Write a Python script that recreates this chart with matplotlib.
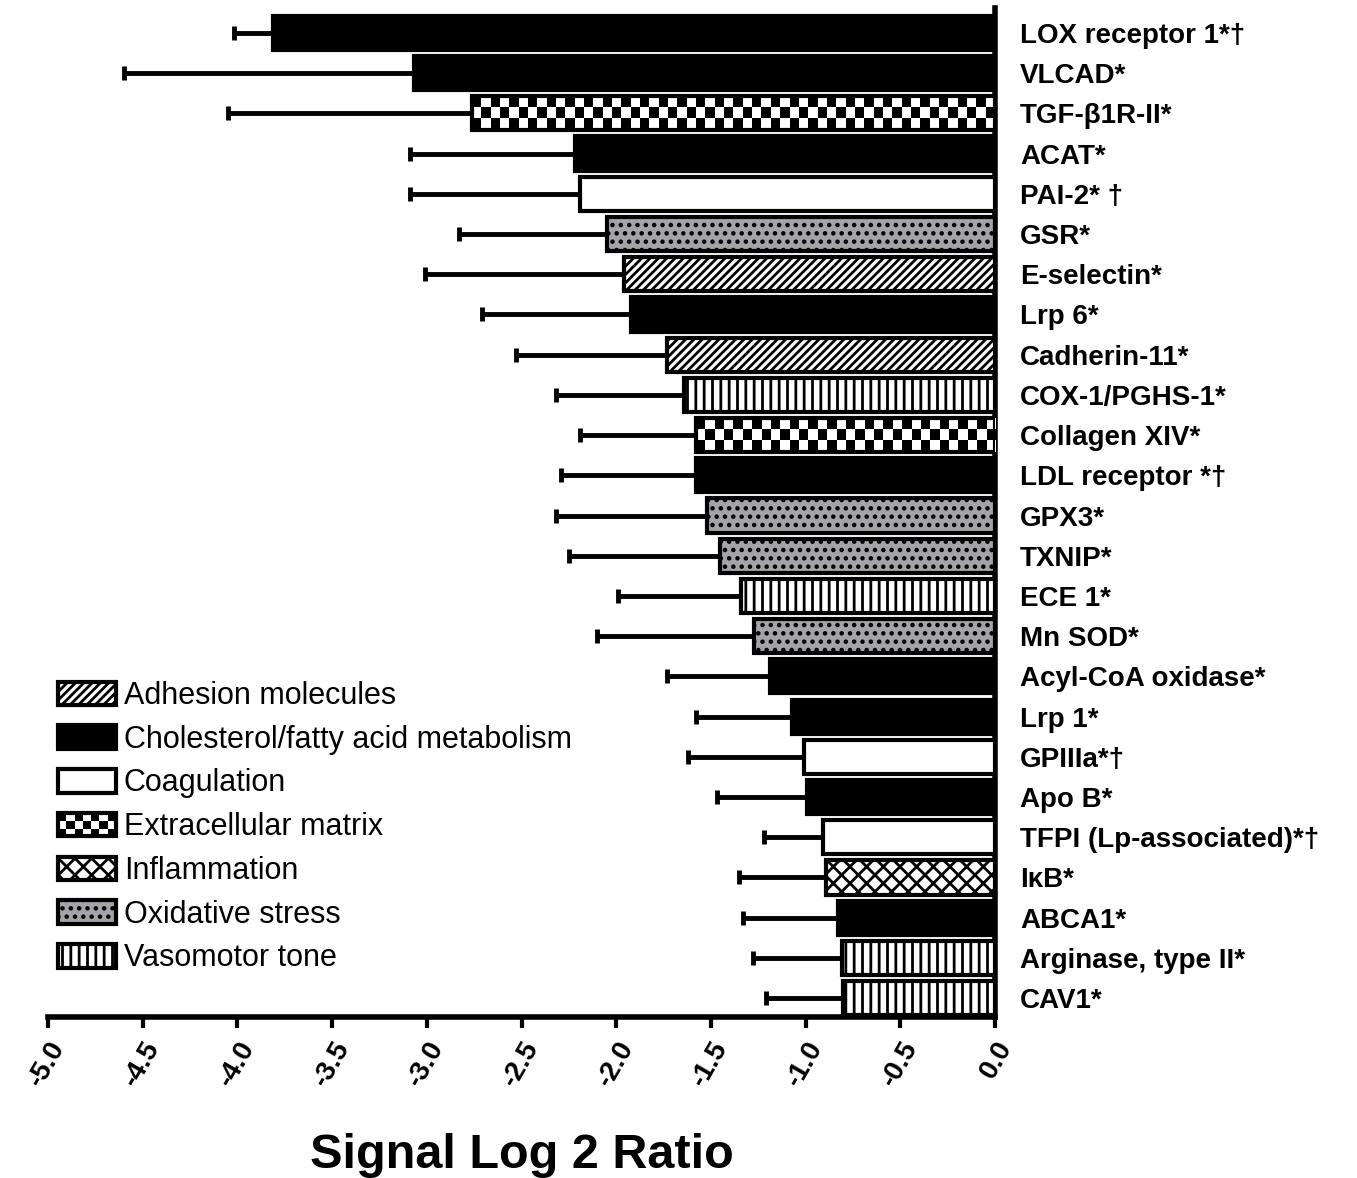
import numpy as np
import matplotlib
matplotlib.use('Agg')
import matplotlib.pyplot as plt
from matplotlib import font_manager
from matplotlib.patches import Patch, Rectangle
from matplotlib.legend_handler import HandlerBase

# gene labels, top to bottom
genes = ['LOX receptor 1*†', 'VLCAD*', 'TGF-β1R-II*', 'ACAT*', 'PAI-2* †', 'GSR*',
         'E-selectin*', 'Lrp 6*', 'Cadherin-11*', 'COX-1/PGHS-1*', 'Collagen XIV*',
         'LDL receptor *†', 'GPX3*', 'TXNIP*', 'ECE 1*', 'Mn SOD*', 'Acyl-CoA oxidase*',
         'Lrp 1*', 'GPIIIa*†', 'Apo B*', 'TFPI (Lp-associated)*†', 'IκB*', 'ABCA1*',
         'Arginase, type II*', 'CAV1*']

# mean signal log2 ratio
values = [-3.81, -3.07, -2.76, -2.22, -2.19, -2.05, -1.96, -1.92, -1.73, -1.64,
          -1.58, -1.58, -1.52, -1.45, -1.34, -1.27, -1.19, -1.07, -1.01, -0.99,
          -0.91, -0.89, -0.83, -0.81, -0.80]

# error (one-sided, toward more negative)
errors = [0.21, 1.53, 1.29, 0.87, 0.90, 0.78, 1.05, 0.79, 0.80, 0.68,
          0.61, 0.71, 0.80, 0.80, 0.65, 0.83, 0.54, 0.51, 0.61, 0.48,
          0.31, 0.46, 0.50, 0.47, 0.41]

# functional group of each gene
groups = ['chol', 'chol', 'ecm', 'chol', 'coag', 'oxid', 'adh', 'chol', 'adh', 'vaso',
          'ecm', 'chol', 'oxid', 'oxid', 'vaso', 'oxid', 'chol', 'chol', 'coag', 'chol',
          'coag', 'infl', 'chol', 'vaso', 'vaso']

group_keys = ['adh', 'chol', 'coag', 'ecm', 'infl', 'oxid', 'vaso']
group_names = ['Adhesion molecules', 'Cholesterol/fatty acid metabolism', 'Coagulation',
               'Extracellular matrix', 'Inflammation', 'Oxidative stress', 'Vasomotor tone']

# fill style per group: (facecolor, hatch)
styles = {
    'adh': ('white', '////'),
    'chol': ('black', None),
    'coag': ('white', None),
    'ecm': ('none', None),
    'infl': ('white', 'xx'),
    'oxid': ('#a3a3a8', '..'),
    'vaso': ('white', '||'),
}

names = {f.name for f in font_manager.fontManager.ttflist}
main_font = 'Liberation Sans Narrow' if 'Liberation Sans Narrow' in names else 'Liberation Sans'
plt.rcParams['font.family'] = [main_font, 'DejaVu Sans']
plt.rcParams['hatch.linewidth'] = 2.0


class CheckerHandler(HandlerBase):
    def create_artists(self, legend, orig_handle, xdescent, ydescent, width, height, fontsize, trans):
        arts = []
        nx, ny = 7, 3
        cw, ch = width / nx, height / ny
        for i in range(nx):
            for j in range(ny):
                if (i + j) % 2 == 0:
                    arts.append(Rectangle((-xdescent + i * cw, -ydescent + j * ch), cw, ch,
                                          facecolor='black', edgecolor='none', transform=trans))
        arts.append(Rectangle((-xdescent, -ydescent), width, height, facecolor='none',
                              edgecolor='black', lw=3, transform=trans))
        return arts


fig = plt.figure(figsize=(13.57, 11.78), dpi=100)
ax = fig.add_axes([48 / 1357, 1 - 1017 / 1178, (995 - 48) / 1357, (1017 - 8) / 1178])

y = np.arange(len(genes))
ax.errorbar(values, y, xerr=[errors, np.zeros(len(errors))], fmt='none', ecolor='black',
            elinewidth=3.5, capsize=5, capthick=3.5, zorder=2)

bars = ax.barh(y, values, height=0.85, edgecolor='black', linewidth=3, zorder=4)
for bar, g in zip(bars, groups):
    fc, h = styles[g]
    bar.set_facecolor(fc)
    if h:
        bar.set_hatch(h)

# checkerboard fill for extracellular matrix bars
cell = 0.049
for bar, g in zip(bars, groups):
    if g != 'ecm':
        continue
    x0, w = bar.get_x(), bar.get_width()
    y0, h = bar.get_y(), bar.get_height()
    ncol = int(round(abs(w) / cell))
    nrow = 3
    board = np.indices((nrow, ncol)).sum(axis=0) % 2
    im = ax.imshow(board, extent=[x0 + w, x0, y0 + h, y0], cmap='gray', interpolation='nearest',
                   aspect='auto', zorder=3)
    im.set_clip_path(bar)

ax.set_xlim(-5, 0)
ax.set_ylim(len(genes) - 0.53, -0.62)

ax.yaxis.tick_right()
ax.set_yticks(y)
ax.set_yticklabels(genes, fontsize=20, fontweight='bold')
ax.tick_params(axis='y', length=0, pad=18)

ticks = np.arange(-5, 0.01, 0.5)
ax.set_xticks(ticks)
ax.set_xticklabels([f'{v:.1f}' for v in ticks], fontsize=20,
                   fontweight='bold', rotation=60, ha='right', va='top', rotation_mode='anchor')
ax.tick_params(axis='x', length=8, width=3, direction='out', pad=6)
ax.set_xlabel('Signal Log 2 Ratio', fontsize=35, fontweight='bold', labelpad=30)

for side in ['left', 'top']:
    ax.spines[side].set_visible(False)
for side in ['right', 'bottom']:
    ax.spines[side].set_linewidth(4)

handles = []
handler_map = {}
for k, name in zip(group_keys, group_names):
    fc, h = styles[k]
    p = Patch(facecolor=fc if fc != 'none' else 'white', edgecolor='black', linewidth=3,
              hatch=h, label=name)
    handles.append(p)
    if k == 'ecm':
        handler_map[p] = CheckerHandler()

fig.legend(handles=handles, handler_map=handler_map, loc='upper left',
           bbox_to_anchor=(58 / 1357, 1 - 681 / 1178), frameon=False, fontsize=22,
           handlelength=1.9, handleheight=0.8, handletextpad=0.25, labelspacing=0.45,
           borderpad=0, borderaxespad=0)

fig.savefig('out.png', dpi=100)
